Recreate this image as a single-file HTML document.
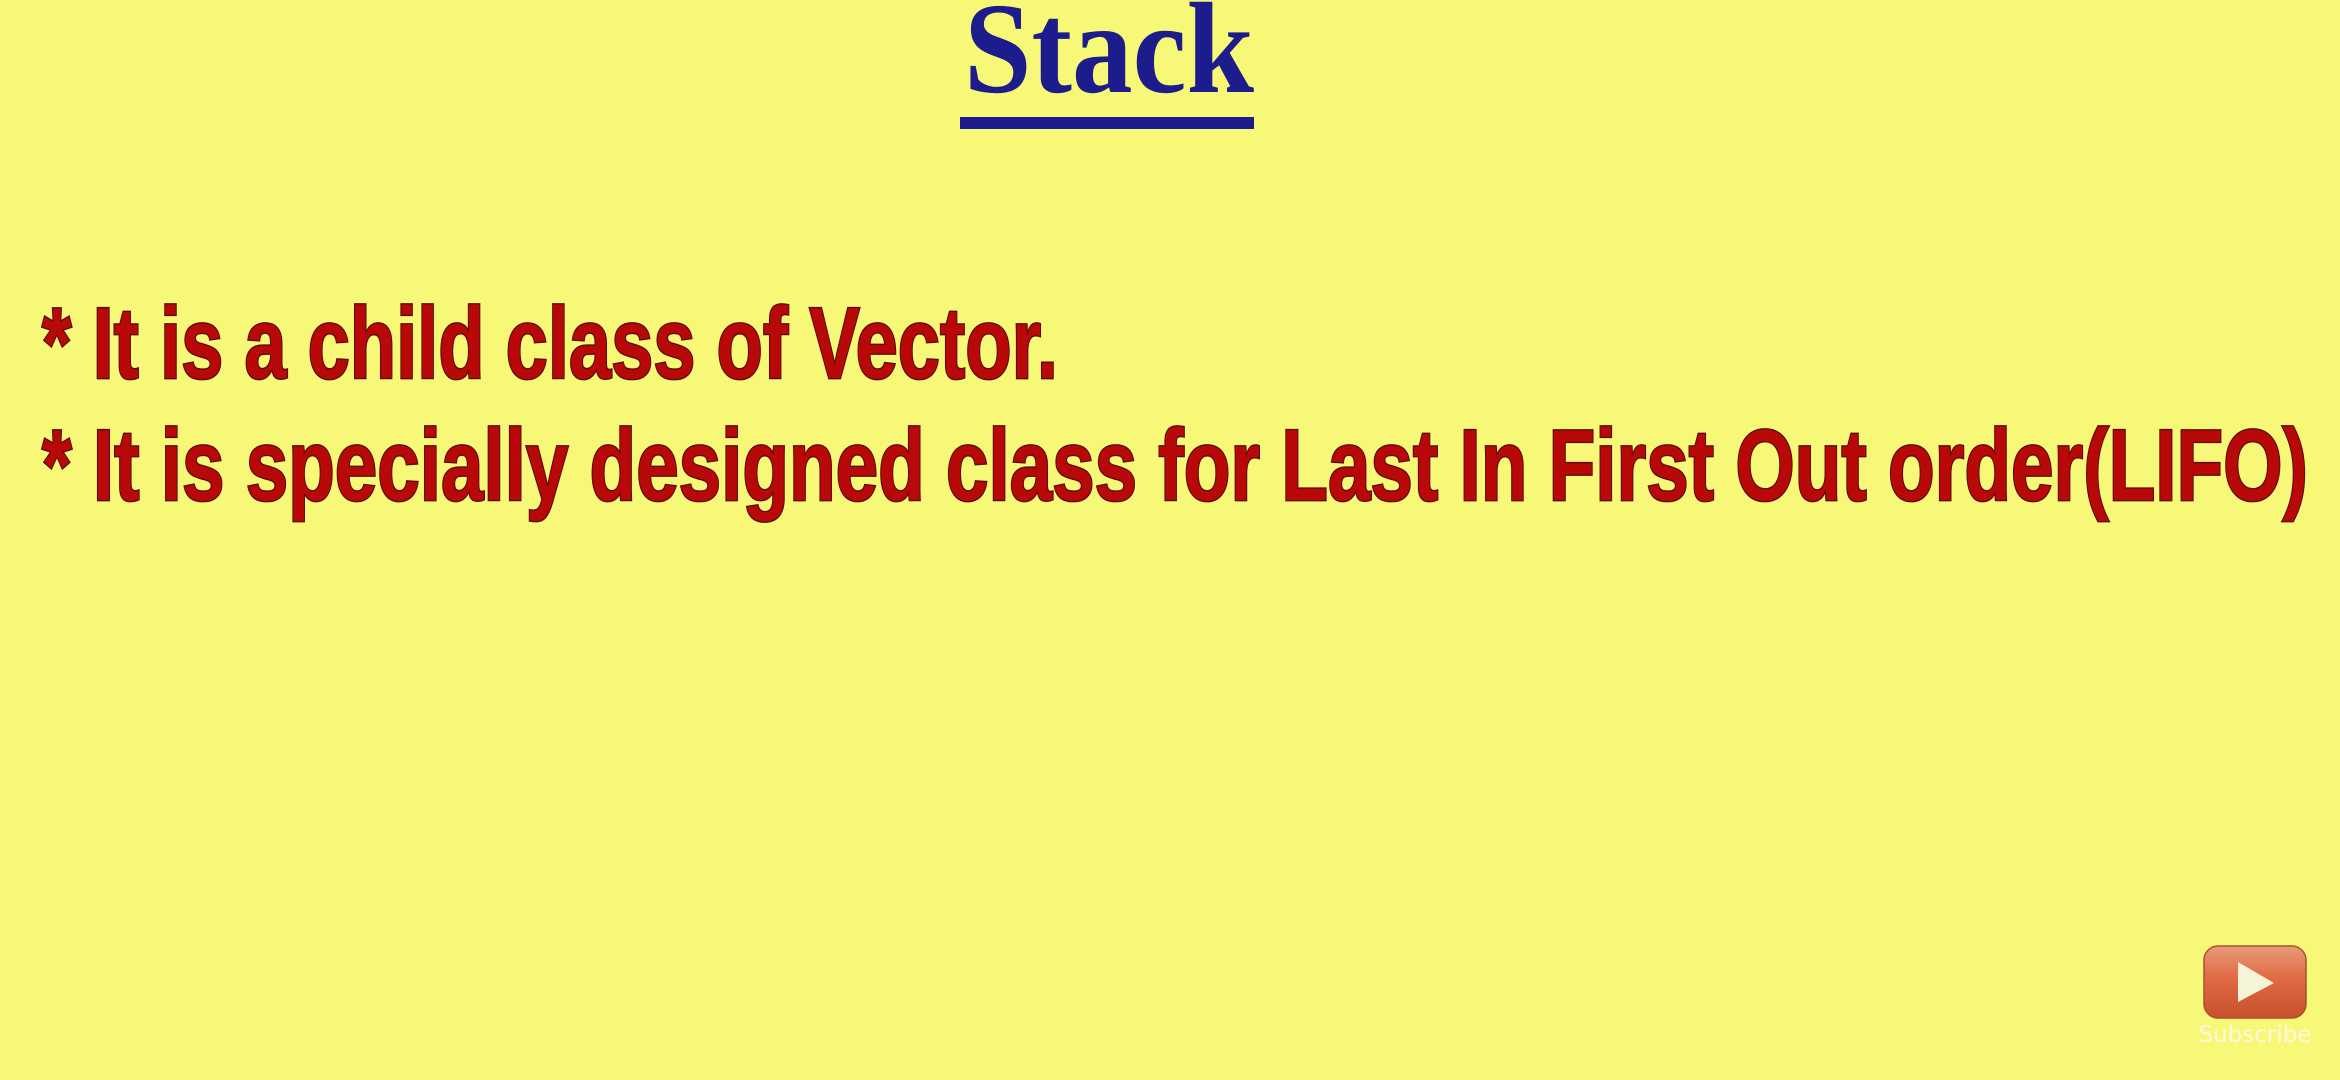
<!DOCTYPE html>
<html><head><meta charset="utf-8"><style>
html,body{margin:0;padding:0;width:2340px;height:1080px;overflow:hidden;background:#f8f878;}
svg{display:block}
</style></head><body>
<svg width="2340" height="1080" xmlns="http://www.w3.org/2000/svg">
<rect width="2340" height="1080" fill="#f8f878"/>
<text x="964" y="92" font-family="Liberation Serif, serif" font-weight="bold" font-size="130" fill="#1c1c8c" textLength="290" lengthAdjust="spacingAndGlyphs">Stack</text>
<rect x="960" y="117" width="294" height="12" fill="#1c1c8c"/>
<g font-family="Liberation Sans, sans-serif" font-weight="bold" font-size="90" fill="#b80808" stroke="#5a0c0c" stroke-width="2.5" paint-order="stroke">
<g transform="translate(0,378) scale(1,1.12)"><text x="42" y="0" textLength="1016" lengthAdjust="spacingAndGlyphs">* It is a child class of Vector.</text></g>
<g transform="translate(0,500) scale(1,1.12)"><text x="42" y="0" textLength="2266" lengthAdjust="spacingAndGlyphs">* It is specially designed class for Last In First Out order(LIFO)</text></g>
</g>
<defs><linearGradient id="g" x1="0" y1="0" x2="0" y2="1">
<stop offset="0" stop-color="#e89a78"/><stop offset="0.45" stop-color="#e06a44"/><stop offset="1" stop-color="#c8502e"/></linearGradient></defs>
<rect x="2204" y="946" width="102" height="72" rx="14" fill="url(#g)" stroke="#a8522e" stroke-width="1.5"/>
<polygon points="2238,962 2274,983 2238,1002" fill="#f6f4d8"/>
<text x="2255" y="1042" text-anchor="middle" font-family="DejaVu Sans, sans-serif" font-size="23" fill="#fafae0">Subscribe</text>
</svg>
</body></html>
